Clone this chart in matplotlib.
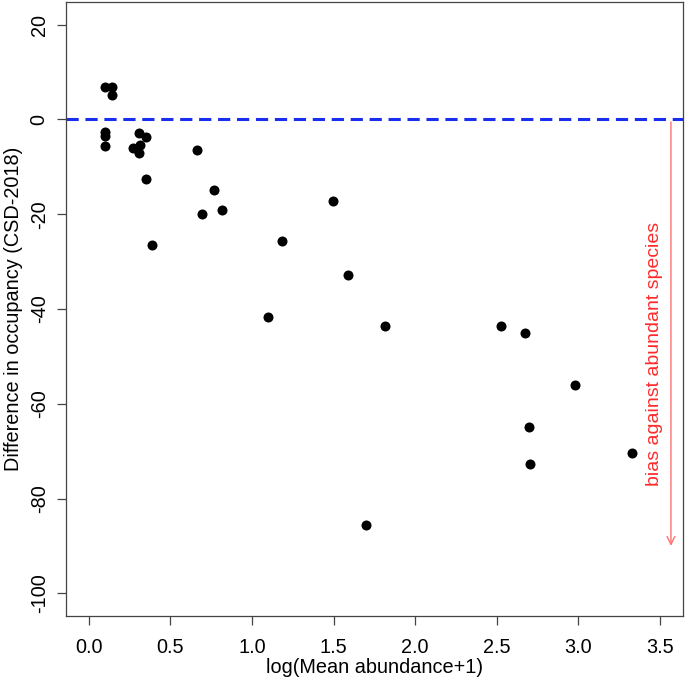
import matplotlib
matplotlib.use("Agg")
import matplotlib.pyplot as plt
import numpy as np

plt.rcParams['font.family'] = ['Liberation Sans', 'DejaVu Sans']

log_abundance = [0.097, 0.144, 0.144, 0.100, 0.100, 0.100, 0.310, 0.351, 0.273, 0.314,
                 0.310, 0.351, 0.387, 0.665, 0.767, 0.692, 0.816, 1.097, 1.181, 1.497,
                 1.587, 1.700, 1.818, 2.528, 2.672, 2.982, 2.695, 2.705, 3.327]
occupancy_diff = [6.9, 6.8, 5.1, -2.7, -3.4, -5.7, -2.9, -3.8, -6.1, -5.3,
                  -7.1, -12.6, -26.4, -6.4, -14.8, -20.0, -19.1, -41.7, -25.7, -17.2,
                  -32.8, -85.5, -43.5, -43.5, -45.1, -56.1, -64.9, -72.8, -70.4]
x_ticks = [0.0, 0.5, 1.0, 1.5, 2.0, 2.5, 3.0, 3.5]
y_ticks = [-100, -80, -60, -40, -20, 0, 20]

W, H = 685, 682
fig = plt.figure(figsize=(W / 100, H / 100), dpi=100)
left, right, top, bottom = 66, 682.7, 2, 616
ax = fig.add_axes([left / W, (H - bottom) / H, (right - left) / W, (bottom - top) / H])

ax.scatter(log_abundance, occupancy_diff, s=52, color='black', zorder=3, linewidths=0)
ax.axhline(0, color='#1a2ef0', lw=2.2, linestyle=(0, (4.0, 2.2)), zorder=2)

ax.annotate('', xy=(3.568, -90), xytext=(3.568, -0.5),
            arrowprops=dict(arrowstyle='->', color='#ff7070', lw=1.0,
                            mutation_scale=14, shrinkA=0, shrinkB=0))
ax.text(3.466, -49.5, 'bias against abundant species', rotation=90, color='#ff2a2a',
        fontsize=14, ha='center', va='center')

ax.set_xlim(-0.14, 3.64)
ax.set_ylim(-104.8, 24.8)
ax.set_xticks(x_ticks)
ax.set_xticklabels([f'{v:.1f}' for v in x_ticks])
ax.set_yticks(y_ticks)
ax.set_yticklabels([str(v) for v in y_ticks], rotation=90, va='center')

for s in ax.spines.values():
    s.set_color('#444444')
    s.set_linewidth(0.9)
ax.tick_params(direction='out', length=6.5, width=0.9, color='#444444',
               labelsize=14.3)
ax.tick_params(axis='x', pad=9)
ax.tick_params(axis='y', pad=6)
ax.set_xlabel('log(Mean abundance+1)', fontsize=14.3, labelpad=1)
ax.set_ylabel('Difference in occupancy (CSD-2018)', fontsize=14.3, labelpad=5)

fig.savefig('out.png', dpi=100)
